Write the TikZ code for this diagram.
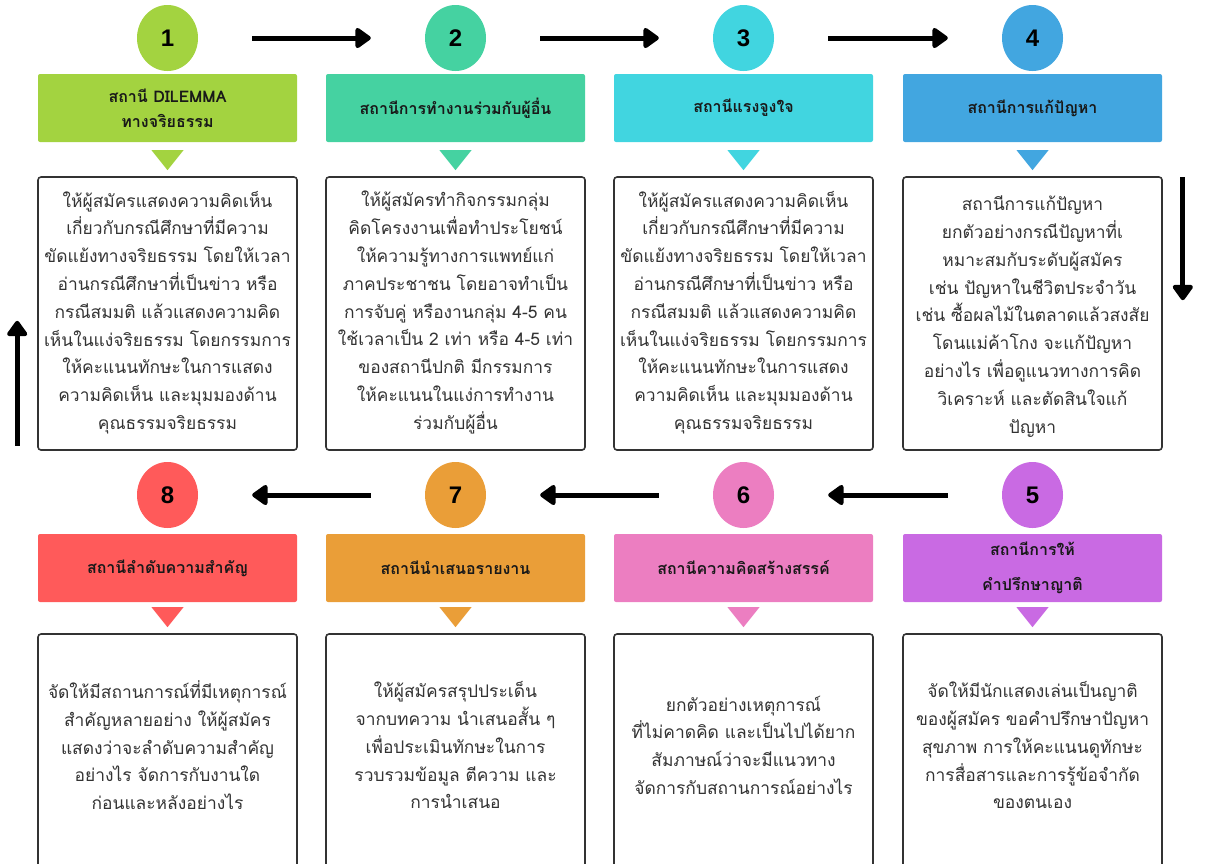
\documentclass[tikz,border=0pt]{standalone}
\usepackage{fontspec}
\usepackage{tikz}
\usetikzlibrary{arrows.meta,calc,shapes.geometric}
\newfontfamily\thaifont[Script=Thai]{Loma}
\newfontfamily\numfont{Liberation Sans}

\definecolor{sone}{HTML}{A3D340}
\definecolor{stwo}{HTML}{45D2A1}
\definecolor{sthree}{HTML}{41D5E0}
\definecolor{sfour}{HTML}{42A6E0}
\definecolor{sfive}{HTML}{C96AE3}
\definecolor{ssix}{HTML}{EC7EC1}
\definecolor{sseven}{HTML}{EA9E38}
\definecolor{seight}{HTML}{FF5A5A}

\begin{document}
\begin{tikzpicture}[x=1pt, y=-1pt, line join=round]
		\tikzstyle{num}=[ellipse, minimum width=61pt, minimum height=66pt, inner sep=0pt,
		font=\numfont\bfseries\fontsize{24}{24}\selectfont]
		\tikzstyle{head}=[rounded corners=2pt, minimum width=259pt, minimum height=68pt,
		inner sep=0pt, align=center, text=black!90, font=\thaifont\bfseries\fontsize{16}{25}\selectfont]
		\tikzstyle{body}=[draw=black!80, line width=1.6pt, rounded corners=3pt, fill=white,
		minimum width=259pt, inner sep=0pt]
		\tikzstyle{txt}=[align=center, inner sep=0pt, text=black!80,
		font=\thaifont\fontsize{17.4}{27.8}\selectfont]
		\tikzstyle{flow}=[-{Triangle[length=17pt,width=23pt,round]}, line width=5pt,
		shorten <=54pt, shorten >=54pt]
		\tikzstyle{side}=[-{Triangle[length=17pt,width=23pt,round]}, line width=5pt]
		
		\useasboundingbox (0,0) rectangle (1206,863);
		
		% top row
		\node [num, fill=sone] (n1) at (167.5,38) {1};
		\node [num, fill=stwo] (n2) at (455.5,38) {2};
		\node [num, fill=sthree] (n3) at (743.5,38) {3};
		\node [num, fill=sfour] (n4) at (1032.5,38) {4};
		
		\node [head, fill=sone] (h1) at ($(n1)+(0,70)$) {สถานี DILEMMA\\ทางจริยธรรม};
		\node [head, fill=stwo] (h2) at ($(n2)+(0,70)$) {สถานีการทำงานร่วมกับผู้อื่น};
		\node [head, fill=sthree] (h3) at ($(n3)+(0,70)$) {สถานีแรงจูงใจ};
		\node [head, fill=sfour] (h4) at ($(n4)+(0,70)$) {สถานีการแก้ปัญหา};
		
		\fill [sone] ($(h1.south)+(-16,8)$) -- ++(32,0) -- ++(-16,20) -- cycle;
		\fill [stwo] ($(h2.south)+(-16,8)$) -- ++(32,0) -- ++(-16,20) -- cycle;
		\fill [sthree] ($(h3.south)+(-16,8)$) -- ++(32,0) -- ++(-16,20) -- cycle;
		\fill [sfour] ($(h4.south)+(-16,8)$) -- ++(32,0) -- ++(-16,20) -- cycle;
		
		\node [body, minimum height=273pt] (b1) at ($(h1)+(0,205.5)$) {};
		\node [body, minimum height=273pt] (b2) at ($(h2)+(0,205.5)$) {};
		\node [body, minimum height=273pt] (b3) at ($(h3)+(0,205.5)$) {};
		\node [body, minimum height=273pt] (b4) at ($(h4)+(0,205.5)$) {};
		
		\node [txt] (t1) at ($(b1)+(0,-1)$) {ให้ผู้สมัครแสดงความคิดเห็น\\เกี่ยวกับกรณีศึกษาที่มีความ\\ขัดแย้งทางจริยธรรม โดยให้เวลา\\อ่านกรณีศึกษาที่เป็นข่าว หรือ\\กรณีสมมติ แล้วแสดงความคิด\\เห็นในแง่จริยธรรม โดยกรรมการ\\ให้คะแนนทักษะในการแสดง\\ความคิดเห็น และมุมมองด้าน\\คุณธรรมจริยธรรม};
		\node [txt] (t2) at ($(b2)+(0,-1)$) {ให้ผู้สมัครทำกิจกรรมกลุ่ม\\คิดโครงงานเพื่อทำประโยชน์\\ให้ความรู้ทางการแพทย์แก่\\ภาคประชาชน โดยอาจทำเป็น\\การจับคู่ หรืองานกลุ่ม 4-5 คน\\ใช้เวลาเป็น 2 เท่า หรือ 4-5 เท่า\\ของสถานีปกติ มีกรรมการ\\ให้คะแนนในแง่การทำงาน\\ร่วมกับผู้อื่น};
		\node [txt] (t3) at ($(b3)+(0,-1)$) {ให้ผู้สมัครแสดงความคิดเห็น\\เกี่ยวกับกรณีศึกษาที่มีความ\\ขัดแย้งทางจริยธรรม โดยให้เวลา\\อ่านกรณีศึกษาที่เป็นข่าว หรือ\\กรณีสมมติ แล้วแสดงความคิด\\เห็นในแง่จริยธรรม โดยกรรมการ\\ให้คะแนนทักษะในการแสดง\\ความคิดเห็น และมุมมองด้าน\\คุณธรรมจริยธรรม};
		\node [txt] (t4) at ($(b4)+(0,3)$) {สถานีการแก้ปัญหา\\ยกตัวอย่างกรณีปัญหาที่เ\\หมาะสมกับระดับผู้สมัคร\\เช่น ปัญหาในชีวิตประจำวัน\\เช่น ซื้อผลไม้ในตลาดแล้วสงสัย\\โดนแม่ค้าโกง จะแก้ปัญหา\\อย่างไร เพื่อดูแนวทางการคิด\\วิเคราะห์ และตัดสินใจแก้\\ปัญหา};
		
		% bottom row
		\node [num, fill=seight] (n8) at (167.5,495) {8};
		\node [num, fill=sseven] (n7) at (455.5,495) {7};
		\node [num, fill=ssix] (n6) at (743.5,495) {6};
		\node [num, fill=sfive] (n5) at (1032.5,495) {5};
		
		\node [head, fill=seight] (h8) at ($(n8)+(0,73)$) {สถานีลำดับความสำคัญ};
		\node [head, fill=sseven] (h7) at ($(n7)+(0,73)$) {สถานีนำเสนอรายงาน};
		\node [head, fill=ssix] (h6) at ($(n6)+(0,73)$) {สถานีความคิดสร้างสรรค์};
		\node [head, fill=sfive, font=\thaifont\bfseries\fontsize{16}{35}\selectfont] (h5) at ($(n5)+(0,73)$) {สถานีการให้\\คำปรึกษาญาติ};
		
		\fill [seight] ($(h8.south)+(-16,5)$) -- ++(32,0) -- ++(-16,20) -- cycle;
		\fill [sseven] ($(h7.south)+(-16,5)$) -- ++(32,0) -- ++(-16,20) -- cycle;
		\fill [ssix] ($(h6.south)+(-16,5)$) -- ++(32,0) -- ++(-16,20) -- cycle;
		\fill [sfive] ($(h5.south)+(-16,5)$) -- ++(32,0) -- ++(-16,20) -- cycle;
		
		\node [body, minimum height=250pt, anchor=north] (b8) at ($(h8.south)+(0,31)$) {};
		\node [body, minimum height=250pt, anchor=north] (b7) at ($(h7.south)+(0,31)$) {};
		\node [body, minimum height=250pt, anchor=north] (b6) at ($(h6.south)+(0,31)$) {};
		\node [body, minimum height=250pt, anchor=north] (b5) at ($(h5.south)+(0,31)$) {};
		
		\node [txt] (t8) at ($(b8.north)+(0,112)$) {จัดให้มีสถานการณ์ที่มีเหตุการณ์\\สำคัญหลายอย่าง ให้ผู้สมัคร\\แสดงว่าจะลำดับความสำคัญ\\อย่างไร จัดการกับงานใด\\ก่อนและหลังอย่างไร};
		\node [txt] (t7) at ($(b7.north)+(0,112)$) {ให้ผู้สมัครสรุปประเด็น\\จากบทความ นำเสนอสั้น ๆ\\เพื่อประเมินทักษะในการ\\รวบรวมข้อมูล ตีความ และ\\การนำเสนอ};
		\node [txt] (t6) at ($(b6.north)+(0,112)$) {ยกตัวอย่างเหตุการณ์\\ที่ไม่คาดคิด และเป็นไปได้ยาก\\สัมภาษณ์ว่าจะมีแนวทาง\\จัดการกับสถานการณ์อย่างไร};
		\node [txt] (t5) at ($(b5.north)+(0,112)$) {จัดให้มีนักแสดงเล่นเป็นญาติ\\ของผู้สมัคร ขอคำปรึกษาปัญหา\\สุขภาพ การให้คะแนนดูทักษะ\\การสื่อสารและการรู้ข้อจำกัด\\ของตนเอง};
		
		% arrows
		\draw [flow] (n1) to (n2); \draw [flow] (n2) to (n3); \draw [flow] (n3) to (n4);
		\draw [flow] (n5) to (n6); \draw [flow] (n6) to (n7); \draw [flow] (n7) to (n8);
		
		\coordinate (d1) at ($(b4.north east)+(20,1)$);
		\coordinate (d2) at ($(b4.north east)+(20,124)$);
		\coordinate (u1) at ($(b1.south west)+(-20,-5)$);
		\coordinate (u2) at ($(b1.south west)+(-20,-130)$);
		\draw [side] (d1) to (d2); \draw [side] (u1) to (u2);
	\end{tikzpicture}
\end{document}
